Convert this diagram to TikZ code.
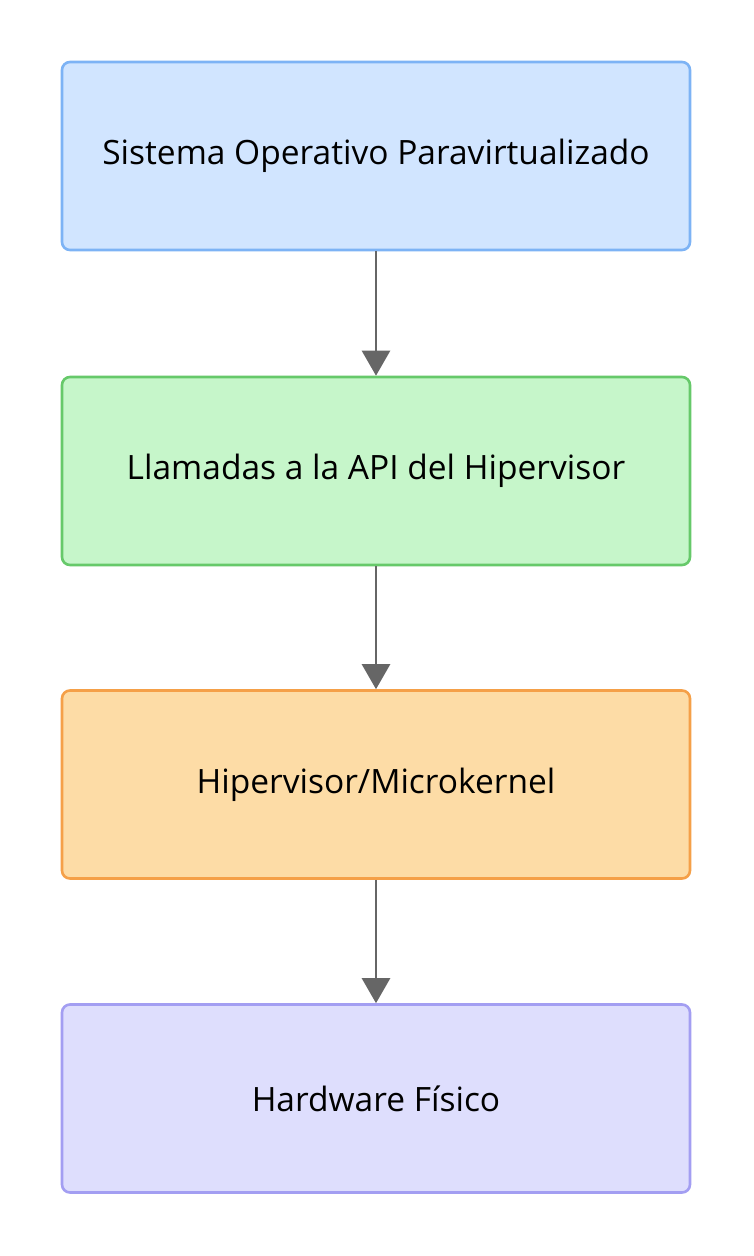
\documentclass[tikz,border=0pt]{standalone}
\usepackage{fontspec}
\setmainfont{Open Sans}
\usetikzlibrary{arrows.meta}
\definecolor{bfill}{HTML}{D1E5FF}\definecolor{bdraw}{HTML}{7DB3F5}
\definecolor{gfill}{HTML}{C6F6CA}\definecolor{gdraw}{HTML}{66C96A}
\definecolor{ofill}{HTML}{FDDCA6}\definecolor{odraw}{HTML}{F5A048}
\definecolor{pfill}{HTML}{DEDEFD}\definecolor{pdraw}{HTML}{A39EF2}
\definecolor{arr}{HTML}{666666}
\tikzset{
  layer/.style={draw, line width=2.6pt, rounded corners=8pt, minimum width=628pt, minimum height=188pt, inner sep=0pt, font=\fontsize{33.5}{40}\selectfont, text=black},
  link/.style={draw=arr, line width=2.6pt, -{Triangle[width=28pt,length=25pt]}}
}
\begin{document}
\begin{tikzpicture}[x=1pt,y=1pt]
\useasboundingbox (0,0) rectangle (753,-1256);
\fill[white] (0,0) rectangle (753,-1256);
\node[layer, fill=bfill, draw=bdraw] (a) at (376,-156) {Sistema Operativo Paravirtualizado};
\node[layer, fill=gfill, draw=gdraw] (b) at (376,-471) {Llamadas a la API del Hipervisor};
\node[layer, fill=ofill, draw=odraw] (c) at (376,-784.5) {Hipervisor/Microkernel};
\node[layer, fill=pfill, draw=pdraw] (d) at (376,-1098.5) {Hardware Físico};
\draw[link] (a) -- (b);
\draw[link] (b) -- (c);
\draw[link] (c) -- (d);
\end{tikzpicture}
\end{document}
